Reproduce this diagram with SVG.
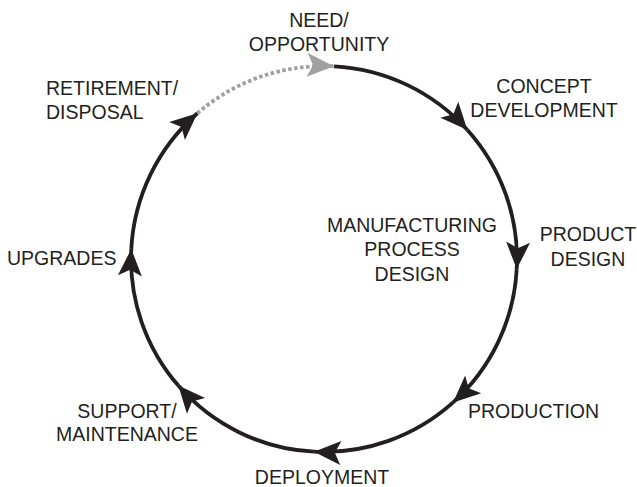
<svg xmlns="http://www.w3.org/2000/svg" width="637" height="487" viewBox="0 0 637 487">
  <style>
    .lbl { font-family: "Liberation Sans", Arial, Helvetica, sans-serif; font-size: 19.5px; fill: #231f20; }
    .mid { text-anchor: middle; }
    .arc { fill: none; stroke: #231f20; stroke-width: 3.8; marker-end: url(#head); }
    .dot { fill: none; stroke: #a0a0a0; stroke-width: 3.8; stroke-dasharray: 3.5 2.5; marker-end: url(#headGray); }
  </style>
  <defs>
    <marker id="head" viewBox="-28 -13 30 26" refX="0" refY="0" markerWidth="30" markerHeight="26" markerUnits="userSpaceOnUse" orient="auto">
      <path d="M0,0 L-27,-12 L-21,0 L-27,12 Z" fill="#231f20"/>
    </marker>
    <marker id="headGray" viewBox="-28 -13 30 26" refX="0" refY="0" markerWidth="30" markerHeight="26" markerUnits="userSpaceOnUse" orient="auto">
      <path d="M0,0 L-27,-12 L-21,0 L-27,12 Z" fill="#a0a0a0"/>
    </marker>
  </defs>

  <!-- lifecycle ring: centre (324,259), radius 193, drawn clockwise -->
  <g id="connectors">
    <path class="arc" d="M334.1,66.3 A193,193 0 0 1 467.4,129.9"/>
    <path class="arc" d="M467.4,129.9 A193,193 0 0 1 516.7,269.1"/>
    <path class="arc" d="M516.7,269.1 A193,193 0 0 1 453.1,402.4"/>
    <path class="arc" d="M453.1,402.4 A193,193 0 0 1 313.9,451.7"/>
    <path class="arc" d="M313.9,451.7 A193,193 0 0 1 178.3,385.6"/>
    <path class="arc" d="M178.3,385.6 A193,193 0 0 1 131.3,248.9"/>
    <path class="arc" d="M131.3,248.9 A193,193 0 0 1 197.4,113.3"/>
    <path class="dot" d="M197.4,113.3 A193,193 0 0 1 334.1,66.3"/>
  </g>

  <g id="need">
    <text class="lbl mid" x="319" y="27">NEED/</text>
    <text class="lbl mid" x="319" y="51">OPPORTUNITY</text>
  </g>
  <g id="concept">
    <text class="lbl mid" x="544" y="93">CONCEPT</text>
    <text class="lbl mid" x="544" y="117">DEVELOPMENT</text>
  </g>
  <g id="product">
    <text class="lbl mid" x="588" y="241">PRODUCT</text>
    <text class="lbl mid" x="588" y="266">DESIGN</text>
  </g>
  <g id="manufacturing">
    <text class="lbl mid" x="412" y="232">MANUFACTURING</text>
    <text class="lbl mid" x="412" y="256">PROCESS</text>
    <text class="lbl mid" x="412" y="281">DESIGN</text>
  </g>
  <g id="production">
    <text class="lbl" x="468" y="418">PRODUCTION</text>
  </g>
  <g id="deployment">
    <text class="lbl mid" x="322" y="484">DEPLOYMENT</text>
  </g>
  <g id="support">
    <text class="lbl mid" x="127" y="418">SUPPORT/</text>
    <text class="lbl mid" x="127" y="441">MAINTENANCE</text>
  </g>
  <g id="upgrades">
    <text class="lbl" x="7" y="265">UPGRADES</text>
  </g>
  <g id="retirement">
    <text class="lbl" x="46" y="95">RETIREMENT/</text>
    <text class="lbl" x="46" y="119">DISPOSAL</text>
  </g>
</svg>
